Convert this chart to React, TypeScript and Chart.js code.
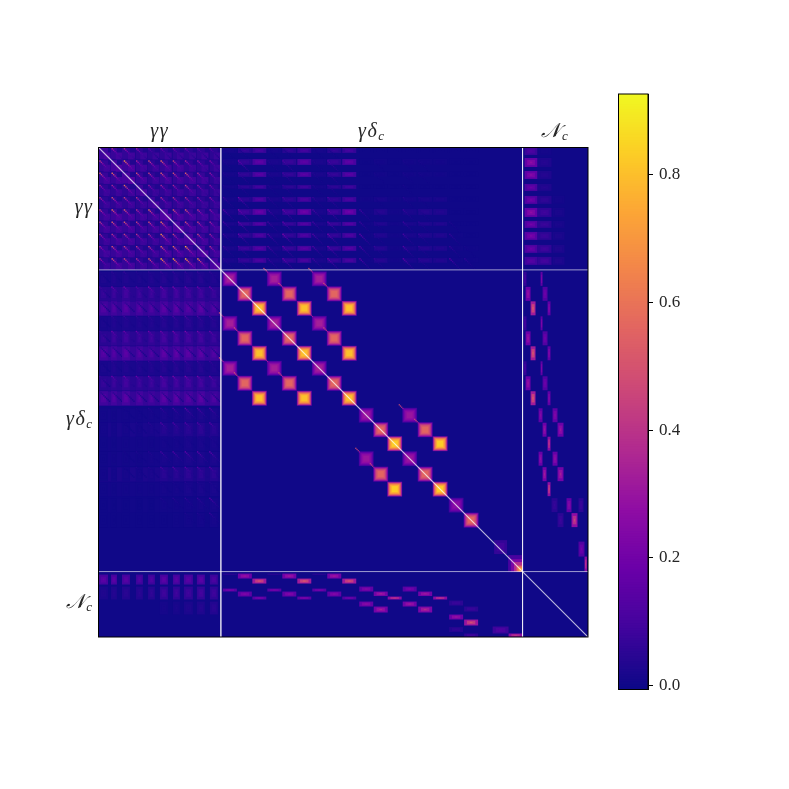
import React, { useEffect, useRef } from "react";
import { Chart, registerables, DatasetController, Element } from "chart.js";

// Matrix axis runs over 490 index units; sector boundaries sit at 122.5 and 424.5
const MATRIX_SIZE = 490;
const sectorEdges = [122.5, 424.5];
const sectorCentres = [61.25, 273.5, 457.25];

// Colour scale
const vMin = -0.006;
const vMax = 0.926;
const plasmaStops = ["#0d0887", "#41049d", "#6a00a8", "#8f0da4", "#b12a90", "#cc4778", "#e16462", "#f2844b", "#fca636", "#fcce25", "#f0f921"];
const colorbarTicks = [0, 0.2, 0.4, 0.6, 0.8];

// gamma-gamma tiles
const tileStarts = [0, 12.25, 24.5, 36.75, 49, 61.25, 73.5, 85.75, 98, 110.25];
const barStarts = [0.5, 12.5, 23.5, 37.5, 49.5, 61.5, 74.5, 85.5, 98.5, 111.5];
const barWidths = [9, 6, 8, 7, 7, 8, 7, 9, 8, 8];
const bandStarts = [0.5, 11.5, 24.5, 37.5, 49.5, 61.5, 74.5, 85.5, 98.5, 110.5];
const bandHeights = [5, 6, 5, 4, 5, 6, 4, 5, 5, 5];
const streakFade = [1, 0.75, 0.56, 0.42, 0.32, 0.25, 0.2, 0.15];

const ggFill = [
  [0.08, 0.07, 0.06, 0.055, 0.05, 0.055, 0.055, 0.05, 0.055, 0.05],
  [0.065, 0.1, 0.08, 0.065, 0.055, 0.065, 0.065, 0.055, 0.055, 0.055],
  [0.07, 0.07, 0.1, 0.065, 0.055, 0.07, 0.065, 0.065, 0.065, 0.05],
  [0.055, 0.055, 0.055, 0.08, 0.05, 0.055, 0.055, 0.055, 0.05, 0.05],
  [0.05, 0.055, 0.055, 0.05, 0.08, 0.055, 0.055, 0.05, 0.05, 0.05],
  [0.065, 0.08, 0.07, 0.065, 0.065, 0.12, 0.08, 0.07, 0.07, 0.065],
  [0.065, 0.065, 0.07, 0.055, 0.065, 0.08, 0.11, 0.07, 0.065, 0.065],
  [0.055, 0.065, 0.065, 0.055, 0.055, 0.07, 0.065, 0.1, 0.065, 0.055],
  [0.065, 0.07, 0.065, 0.055, 0.055, 0.07, 0.07, 0.07, 0.1, 0.065],
  [0.05, 0.065, 0.065, 0.055, 0.055, 0.07, 0.07, 0.07, 0.065, 0.1],
];
const ggStreak = [
  [0, 0.35, 0.35, 0.3, 0.15, 0.2, 0.2, 0.2, 0.15, 0.15],
  [0.45, 0, 0.7, 0.35, 0.5, 0.6, 0.45, 0.35, 0.3, 0.25],
  [0.55, 0.6, 0, 0.5, 0.45, 0.55, 0.5, 0.55, 0.35, 0.3],
  [0.35, 0.35, 0.6, 0, 0.3, 0.35, 0.35, 0.45, 0.3, 0.25],
  [0.4, 0.5, 0.45, 0.4, 0, 0.4, 0.4, 0.4, 0.3, 0.3],
  [0.45, 0.6, 0.55, 0.4, 0.6, 0, 0.55, 0.55, 0.4, 0.3],
  [0.45, 0.55, 0.55, 0.45, 0.5, 0.65, 0, 0.5, 0.45, 0.35],
  [0.4, 0.4, 0.45, 0.4, 0.4, 0.7, 0.45, 0, 0.45, 0.35],
  [0.35, 0.5, 0.45, 0.4, 0.45, 0.6, 0.6, 0.75, 0, 0.4],
  [0.35, 0.55, 0.5, 0.4, 0.55, 0.8, 0.8, 0.8, 0.7, 0],
];

// gamma-delta blocks
const gdStarts = [124.5, 139.5, 154, 169, 184, 199, 214, 229, 244, 261, 275.5, 289.5, 304.5, 320, 335, 351, 366];
const gdSize = 14;
const gdPeak = [0.33, 0.56, 0.8, 0.33, 0.56, 0.8, 0.33, 0.56, 0.8, 0.3, 0.56, 0.83, 0.3, 0.56, 0.83, 0.26, 0.56];
const gdCoupled = [[0, 3, 6], [1, 4, 7], [2, 5, 8], [9, 12], [10, 13], [11, 14], [15], [16]];
const blockRings = [[-0.03, 0.3], [0.03, 0.55], [0.1, 0.74], [0.18, 0.9], [0.28, 1]];
const barRings = [[0, 0.62], [0.2, 0.85], [0.4, 1]];
const leadStreak = [0.5, 0.45, 0.42, 0.3];
const bandGain = 0.72;
const sideStreakGain = 0.65;

// gamma-delta rows against gamma-gamma columns
const gdGgFill = [
  [0.04, 0.05, 0.05, 0.04, 0.05, 0.06, 0.06, 0.06, 0.06, 0.05],
  [0.1, 0.12, 0.14, 0.12, 0.12, 0.14, 0.14, 0.13, 0.13, 0.11],
  [0.19, 0.19, 0.21, 0.2, 0.18, 0.22, 0.22, 0.2, 0.22, 0.18],
  [0.03, 0.05, 0.05, 0.05, 0.05, 0.06, 0.06, 0.07, 0.06, 0.06],
  [0.1, 0.13, 0.14, 0.12, 0.13, 0.15, 0.15, 0.14, 0.14, 0.12],
  [0.2, 0.2, 0.22, 0.2, 0.18, 0.23, 0.23, 0.22, 0.22, 0.19],
  [0.03, 0.05, 0.05, 0.05, 0.05, 0.06, 0.06, 0.06, 0.06, 0.05],
  [0.1, 0.12, 0.14, 0.12, 0.12, 0.15, 0.14, 0.14, 0.14, 0.12],
  [0.19, 0.2, 0.22, 0.2, 0.18, 0.22, 0.22, 0.2, 0.22, 0.18],
  [0.01, 0.01, 0.015, 0.015, 0.02, 0.03, 0.03, 0.04, 0.04, 0.04],
  [0.015, 0.015, 0.02, 0.02, 0.03, 0.06, 0.06, 0.07, 0.08, 0.07],
  [0.005, 0.005, 0.01, 0.01, 0.01, 0.02, 0.02, 0.03, 0.03, 0.03],
  [0.005, 0.01, 0.01, 0.01, 0.02, 0.03, 0.03, 0.04, 0.04, 0.04],
  [0.01, 0.015, 0.02, 0.02, 0.03, 0.07, 0.07, 0.08, 0.08, 0.08],
  [0.005, 0.005, 0.01, 0.01, 0.01, 0.02, 0.02, 0.03, 0.03, 0.03],
  [0, 0, 0, 0, 0, 0.01, 0.01, 0.015, 0.02, 0.025],
  [0, 0, 0, 0, 0, 0, 0.005, 0.01, 0.015, 0.02],
];
const gdGgStreak = [
  [0.05, 0.08, 0.1, 0.06, 0.08, 0.1, 0.1, 0.1, 0.1, 0.1],
  [0.15, 0.3, 0.32, 0.2, 0.35, 0.35, 0.35, 0.3, 0.3, 0.3],
  [0.1, 0.12, 0.14, 0.1, 0.12, 0.14, 0.14, 0.12, 0.14, 0.12],
  [0.04, 0.1, 0.12, 0.1, 0.12, 0.14, 0.16, 0.2, 0.18, 0.16],
  [0.12, 0.3, 0.3, 0.28, 0.3, 0.32, 0.35, 0.35, 0.32, 0.3],
  [0.1, 0.12, 0.14, 0.1, 0.12, 0.14, 0.14, 0.12, 0.14, 0.12],
  [0.04, 0.08, 0.1, 0.08, 0.1, 0.12, 0.12, 0.14, 0.12, 0.12],
  [0.12, 0.28, 0.3, 0.28, 0.3, 0.32, 0.35, 0.35, 0.32, 0.3],
  [0.1, 0.12, 0.14, 0.1, 0.12, 0.14, 0.14, 0.12, 0.14, 0.12],
  [0, 0, 0.02, 0.02, 0.06, 0.12, 0.15, 0.25, 0.22, 0.2],
  [0, 0, 0.02, 0.04, 0.08, 0.2, 0.2, 0.2, 0.2, 0.22],
  [0, 0, 0, 0, 0, 0.03, 0.04, 0.05, 0.05, 0.06],
  [0, 0, 0.02, 0.04, 0.06, 0.16, 0.2, 0.25, 0.25, 0.25],
  [0, 0, 0.02, 0.04, 0.06, 0.16, 0.2, 0.2, 0.2, 0.2],
  [0, 0, 0, 0, 0, 0.03, 0.03, 0.05, 0.05, 0.05],
  [0, 0, 0, 0, 0, 0.04, 0.06, 0.08, 0.1, 0.2],
  [0, 0, 0, 0, 0, 0, 0, 0.03, 0.04, 0.1],
];

// gamma-gamma rows against gamma-delta columns
const ggGdFill = [
  [0.02, 0.1, 0.15, 0.02, 0.09, 0.14, 0.02, 0.09, 0.14, 0, 0, 0, 0, 0, 0, 0, 0],
  [0.02, 0.1, 0.23, 0.03, 0.11, 0.22, 0.03, 0.11, 0.23, 0, 0.01, 0, 0.01, 0.01, 0.01, 0, 0],
  [0.02, 0.09, 0.21, 0.03, 0.1, 0.21, 0.03, 0.1, 0.21, 0, 0.01, 0, 0.01, 0.01, 0.01, 0, 0],
  [0.02, 0.08, 0.14, 0.02, 0.08, 0.13, 0.02, 0.08, 0.13, 0, 0, 0, 0, 0, 0, 0, 0],
  [0.02, 0.08, 0.18, 0.03, 0.09, 0.17, 0.03, 0.09, 0.17, 0.01, 0.03, 0.01, 0.02, 0.03, 0.03, 0, 0],
  [0.03, 0.13, 0.26, 0.03, 0.13, 0.28, 0.03, 0.13, 0.28, 0.01, 0.06, 0.01, 0.03, 0.06, 0.05, 0, 0],
  [0.03, 0.11, 0.2, 0.03, 0.11, 0.2, 0.03, 0.11, 0.2, 0.01, 0.05, 0.01, 0.03, 0.05, 0.05, 0, 0],
  [0.03, 0.1, 0.18, 0.03, 0.1, 0.18, 0.03, 0.1, 0.18, 0.01, 0.05, 0.01, 0.03, 0.05, 0.05, 0.005, 0],
  [0.03, 0.12, 0.2, 0.03, 0.11, 0.21, 0.03, 0.11, 0.2, 0.01, 0.06, 0.01, 0.03, 0.06, 0.05, 0.01, 0.005],
  [0.03, 0.1, 0.17, 0.03, 0.1, 0.16, 0.03, 0.1, 0.16, 0.01, 0.06, 0.01, 0.03, 0.06, 0.05, 0.01, 0.005],
];
const ggGdStreak = [
  [0.03, 0.05, 0, 0.03, 0.05, 0, 0.03, 0.05, 0, 0, 0, 0, 0, 0, 0, 0, 0],
  [0.05, 0.3, 0, 0.06, 0.2, 0, 0.06, 0.2, 0, 0, 0.02, 0, 0.03, 0.03, 0, 0, 0],
  [0.05, 0.15, 0, 0.06, 0.15, 0, 0.06, 0.15, 0, 0, 0.02, 0, 0.03, 0.03, 0, 0, 0],
  [0.03, 0.1, 0, 0.05, 0.1, 0, 0.05, 0.1, 0, 0, 0, 0, 0.02, 0, 0, 0, 0],
  [0.12, 0.3, 0, 0.1, 0.18, 0, 0.1, 0.18, 0, 0, 0.02, 0, 0.06, 0.04, 0, 0, 0],
  [0.22, 0.35, 0, 0.18, 0.3, 0, 0.18, 0.3, 0, 0.15, 0.05, 0, 0.12, 0.06, 0, 0, 0],
  [0.15, 0.3, 0, 0.15, 0.25, 0, 0.15, 0.25, 0, 0.12, 0.05, 0, 0.12, 0.08, 0, 0.04, 0],
  [0.12, 0.25, 0, 0.22, 0.35, 0, 0.2, 0.3, 0, 0.25, 0.07, 0, 0.15, 0.1, 0, 0.1, 0],
  [0.12, 0.2, 0, 0.2, 0.3, 0, 0.2, 0.3, 0, 0.2, 0.1, 0, 0.2, 0.1, 0, 0.1, 0.02],
  [0.08, 0.15, 0, 0.15, 0.3, 0, 0.15, 0.3, 0, 0.22, 0.1, 0, 0.25, 0.1, 0, 0.2, 0.08],
];

// N_c columns against gamma-gamma rows: [start, end, value per tile row]
const ncGgColumns: [number, number, number[]][] = [
  [426.5, 439.5, [0.12, 0.27, 0.25, 0.18, 0.2, 0.27, 0.2, 0.22, 0.18, 0.14]],
  [439.5, 453.5, [0.01, 0.04, 0.04, 0.04, 0.06, 0.09, 0.08, 0.08, 0.09, 0.1]],
  [454.5, 466.5, [0, 0, 0, 0, 0.01, 0.02, 0.02, 0.025, 0.03, 0.03]],
];
// N_c rows against gamma-gamma columns: [start, end, value per tile column]
const ncGgRows: [number, number, number[]][] = [
  [427.5, 437.5, [0.16, 0.16, 0.15, 0.13, 0.13, 0.16, 0.15, 0.15, 0.16, 0.12]],
  [439.5, 452.5, [0.03, 0.04, 0.05, 0.05, 0.06, 0.09, 0.09, 0.09, 0.1, 0.09]],
  [454.5, 467.5, [0, 0, 0, 0, 0, 0.015, 0.02, 0.03, 0.04, 0.05]],
];
// N_c rows against gamma-delta columns: [column block, row start, row end, value]
const ncGdBars: [number, number, number, number][] = [
  [0, 426.5, 428, 0.05], [3, 426.5, 428, 0.05], [6, 426.5, 428, 0.05],
  [1, 426.5, 431.5, 0.3], [4, 426.5, 431.5, 0.32], [7, 426.5, 431.5, 0.32],
  [2, 431.5, 436.5, 0.5], [5, 431.5, 436.5, 0.52], [8, 431.5, 436.5, 0.5],
  [0, 441.5, 444.5, 0.22], [3, 441.5, 444.5, 0.22], [6, 441.5, 444.5, 0.22],
  [1, 444.5, 449.5, 0.24], [4, 444.5, 449.5, 0.25], [7, 444.5, 449.5, 0.25],
  [2, 449.5, 452.5, 0.22], [5, 449.5, 452.5, 0.24], [8, 449.5, 452.5, 0.2],
  [9, 439.5, 444.5, 0.25], [12, 439.5, 444.5, 0.22],
  [10, 444.5, 449, 0.33], [13, 444.5, 449, 0.32],
  [11, 449.5, 452.5, 0.42], [14, 449.5, 452.5, 0.42],
  [9, 454.5, 459.5, 0.27], [12, 454.5, 459.5, 0.32],
  [10, 459.5, 465.5, 0.33], [13, 459.5, 465.5, 0.36],
  [15, 453.5, 458.5, 0.08], [16, 459.5, 464.5, 0.08],
  [15, 467.5, 472.5, 0.3], [16, 472.5, 478.5, 0.48],
  [15, 480, 485, 0.06], [16, 486.5, 490, 0.09],
];
// gamma-delta rows against N_c columns: [row block, column start, column end, value]
const gdNcBars: [number, number, number, number][] = [
  [0, 425.5, 428.5, 0.1], [3, 425.5, 428.5, 0.1], [6, 425.5, 428.5, 0.1],
  [1, 427.5, 432.5, 0.3], [4, 427.5, 432.5, 0.3], [7, 427.5, 432.5, 0.3],
  [2, 432.5, 437.5, 0.52], [5, 432.5, 437.5, 0.52], [8, 432.5, 437.5, 0.52],
  [0, 442.5, 444.5, 0.25], [3, 442.5, 444.5, 0.25], [6, 442.5, 444.5, 0.25],
  [1, 444.5, 449.5, 0.2], [4, 444.5, 449.5, 0.2], [7, 444.5, 449.5, 0.2],
  [2, 449.5, 452.5, 0.25], [5, 449.5, 452.5, 0.25], [8, 449.5, 452.5, 0.25],
  [9, 440.5, 444.5, 0.25], [12, 440.5, 444.5, 0.28],
  [9, 454.5, 459.5, 0.25], [12, 454.5, 459.5, 0.28],
  [10, 444.5, 448.5, 0.3], [13, 444.5, 448.5, 0.33],
  [10, 459.5, 465.5, 0.3], [13, 459.5, 465.5, 0.33],
  [11, 449.5, 452.5, 0.42], [14, 449.5, 452.5, 0.45],
  [15, 453.5, 459.5, 0.07], [15, 468.5, 473.5, 0.26], [15, 480.5, 485.5, 0.08],
  [16, 459.5, 465.5, 0.08], [16, 473.5, 479.5, 0.44],
];
// Separate rectangles near the lower right end: [x0, x1, y0, y1, value]
const cornerBars: [number, number, number, number, number][] = [
  [480.5, 486.5, 394.5, 409.5, 0.2],
  [486.5, 489, 409.5, 424.5, 0.42],
  [394.5, 410.5, 479.5, 486.5, 0.13],
  [410.5, 424.5, 486.5, 490, 0.42],
  [396, 409, 393, 407, 0.1],
];
const cornerGlow: [number, number, number, number, number][] = [
  [410, 424.5, 408, 424.5, 0.1],
  [413, 424.5, 412, 424.5, 0.22],
  [416, 424.5, 415, 424.5, 0.38],
  [418.5, 424, 418.5, 424.5, 0.56],
  [420.5, 424, 420.5, 424.5, 0.72],
];

type Cell = { x: number; y: number; x1: number; y1: number; v: number };

function rect(out: Cell[], x: number, x1: number, y: number, y1: number, v: number) {
  out.push({ x, y, x1, y1, v });
}
function rings(out: Cell[], x0: number, x1: number, y0: number, y1: number, v: number, table: number[][]) {
  const w = x1 - x0;
  const h = y1 - y0;
  for (const [inset, factor] of table) {
    rect(out, x0 + inset * w, x1 - inset * w, y0 + inset * h, y1 - inset * h, v * factor);
  }
}
function streak(out: Cell[], x: number, y: number, v: number, fade: number[]) {
  fade.forEach((f, i) => {
    rect(out, x + i * 1.4, x + i * 1.4 + 1.4, y + i * 1.4, y + i * 1.4 + 1.4, v * f);
  });
}

function buildCells(): Cell[] {
  const out: Cell[] = [];
  rect(out, 0, MATRIX_SIZE, 0, MATRIX_SIZE, 0);

  // gamma-gamma sector
  rect(out, 0, sectorEdges[0], 0, sectorEdges[0], 0.03);
  tileStarts.forEach((ty, r) =>
    tileStarts.forEach((tx, c) => {
      rect(out, barStarts[c], barStarts[c] + barWidths[c], ty + 0.5, ty + 11.5, ggFill[r][c]);
      rect(out, tx + 5, tx + 12, ty + 5, ty + 12, ggFill[r][c] + 0.025);
    })
  );
  tileStarts.forEach((ty, r) =>
    tileStarts.forEach((tx, c) => {
      if (ggStreak[r][c] > 0) streak(out, tx + 0.8, ty + 0.6, ggStreak[r][c], streakFade);
    })
  );

  // gamma-delta against gamma-gamma
  gdStarts.forEach((gy, r) => {
    rect(out, 0, sectorEdges[0], gy, gy + gdSize + 0.5, gdGgFill[r][5] * 0.3);
    tileStarts.forEach((tx, c) => {
      rings(out, barStarts[c], barStarts[c] + barWidths[c], gy, gy + gdSize, gdGgFill[r][c] * bandGain, barRings);
      if (gdGgStreak[r][c] > 0) streak(out, tx + 0.5, gy - 0.5, gdGgStreak[r][c] * sideStreakGain, streakFade);
    });
  });
  // gamma-gamma against gamma-delta
  bandStarts.forEach((by, r) => {
    gdStarts.forEach((gx, c) => {
      rings(out, gx, gx + gdSize, by, by + bandHeights[r], ggGdFill[r][c] * bandGain, barRings);
      if (ggGdStreak[r][c] > 0) streak(out, gx, tileStarts[r] + 0.5, ggGdStreak[r][c] * sideStreakGain, streakFade);
    });
  });

  // gamma-delta blocks
  gdCoupled.forEach((group) => {
    group.forEach((r) =>
      group.forEach((c) => {
        rings(out, gdStarts[c], gdStarts[c] + gdSize, gdStarts[r], gdStarts[r] + gdSize, gdPeak[r], blockRings);
        if (r !== c && gdPeak[r] < 0.7) {
          leadStreak.forEach((v, i) => {
            const px = gdStarts[c] - 4 + i * 1.2;
            const py = gdStarts[r] - 4 + i * 1.2;
            rect(out, px, px + 1.2, py, py + 1.2, v);
          });
        }
      })
    );
  });

  // N_c couplings
  ncGgColumns.forEach(([x0, x1, vals]) =>
    vals.forEach((v, r) => {
      if (v > 0) rings(out, x0, x1, bandStarts[r] - 1, bandStarts[r] + bandHeights[r] + 2, v, barRings);
    })
  );
  ncGgRows.forEach(([y0, y1, vals]) =>
    vals.forEach((v, c) => {
      if (v > 0) rings(out, barStarts[c], barStarts[c] + barWidths[c], y0, y1, v, barRings);
    })
  );
  ncGdBars.forEach(([c, y0, y1, v]) => rings(out, gdStarts[c], gdStarts[c] + gdSize, y0, y1, v, barRings));
  gdNcBars.forEach(([r, x0, x1, v]) => rings(out, x0, x1, gdStarts[r], gdStarts[r] + gdSize, v, barRings));
  cornerBars.forEach(([x0, x1, y0, y1, v]) => rings(out, x0, x1, y0, y1, v, barRings));
  cornerGlow.forEach(([x0, x1, y0, y1, v]) => rect(out, x0, x1, y0, y1, v));
  return out;
}

function hexRgb(h: string) {
  return [1, 3, 5].map((i) => parseInt(h.slice(i, i + 2), 16));
}
function colorFor(v: number) {
  const t = Math.min(1, Math.max(0, (v - vMin) / (vMax - vMin))) * (plasmaStops.length - 1);
  const i = Math.min(plasmaStops.length - 2, Math.floor(t));
  const a = hexRgb(plasmaStops[i]);
  const b = hexRgb(plasmaStops[i + 1]);
  const f = t - i;
  return `rgb(${a.map((p, k) => Math.round(p + (b[k] - p) * f)).join(",")})`;
}

class CellElement extends Element {
  static id = "matrixCell";
  static defaults = {};
  draw(ctx: CanvasRenderingContext2D) {
    const e = this as any;
    ctx.fillStyle = e.color;
    ctx.fillRect(e.x, e.y, e.width, e.height);
  }
}

class MatrixController extends DatasetController {
  static id = "matrix";
  static defaults = { dataElementType: "matrixCell", datasetElementType: false };
  update(mode: any) {
    const meta = (this as any)._cachedMeta;
    (this as any).updateElements(meta.data, 0, meta.data.length, mode);
  }
  updateElements(items: any[], start: number, count: number) {
    const meta = (this as any)._cachedMeta;
    const rows = (this as any).getDataset().data as Cell[];
    for (let i = start; i < start + count; i++) {
      const d = rows[i];
      const x = meta.xScale.getPixelForValue(d.x);
      const y = meta.yScale.getPixelForValue(d.y);
      Object.assign(items[i], {
        x,
        y,
        width: meta.xScale.getPixelForValue(d.x1) - x,
        height: meta.yScale.getPixelForValue(d.y1) - y,
        color: colorFor(d.v),
      });
    }
  }
  draw() {
    const meta = (this as any)._cachedMeta;
    const ctx = (this as any).chart.ctx;
    meta.data.forEach((e: any) => e.draw(ctx));
  }
}

Chart.register(...registerables, CellElement, MatrixController as any);

const lineStyle = { type: "line" as const, order: 0, borderColor: "rgba(255,255,255,0.6)", borderWidth: 1, pointRadius: 0, fill: false };
const diagonalStyle = { ...lineStyle, borderColor: "rgba(255,255,255,0.72)", borderWidth: 1.1 };
const TEXT_FONT = '"Liberation Serif", serif';
const TEXT_COLOR = "#262626";
const sectorLabels = [
  { main: "γγ", sub: "" },
  { main: "γδ", sub: "c" },
  { main: "𝒩", sub: "c" },
];

const labelsPlugin = {
  id: "sectorLabels",
  afterDraw(chart: any) {
    const { ctx, chartArea, scales } = chart;
    ctx.save();
    ctx.strokeStyle = "#000";
    ctx.lineWidth = 1;
    ctx.strokeRect(chartArea.left, chartArea.top, chartArea.width, chartArea.height);
    ctx.fillStyle = TEXT_COLOR;
    ctx.textBaseline = "alphabetic";
    const mainFont = `italic 20px ${TEXT_FONT}`;
    const subFont = `italic 13px ${TEXT_FONT}`;
    (ctx as any).letterSpacing = "1.5px";
    sectorLabels.forEach((l, i) => {
      ctx.font = mainFont;
      const mw = ctx.measureText(l.main).width;
      ctx.font = subFont;
      const sw = l.sub ? ctx.measureText(l.sub).width : 0;
      const total = mw + sw;
      const put = (left: number, base: number) => {
        ctx.textAlign = "left";
        ctx.font = mainFont;
        ctx.fillText(l.main, left, base);
        if (l.sub) {
          ctx.font = subFont;
          ctx.fillText(l.sub, left + mw, base + 3);
        }
      };
      put(scales.x.getPixelForValue(sectorCentres[i]) - total / 2, chartArea.top - 11);
      put(chartArea.left - 5 - total, scales.y.getPixelForValue(sectorCentres[i]) + 4);
    });
    ctx.restore();
  },
};

const cbRow = 0.004;
function buildColorbar(): Cell[] {
  const out: Cell[] = [];
  for (let v = vMin; v < vMax; v += cbRow) out.push({ x: 0, x1: 1, y: v, y1: Math.min(vMax, v + cbRow * 1.6), v });
  return out;
}

export default function App() {
  const mainRef = useRef<HTMLCanvasElement>(null);
  const barRef = useRef<HTMLCanvasElement>(null);
  useEffect(() => {
    const main = new Chart(mainRef.current!, {
      type: "matrix" as any,
      data: {
        datasets: [
          { type: "matrix", order: 1, data: buildCells() } as any,
          { ...diagonalStyle, data: [{ x: 0, y: 0 }, { x: MATRIX_SIZE, y: MATRIX_SIZE }] },
          { ...lineStyle, data: [{ x: sectorEdges[0], y: 0 }, { x: sectorEdges[0], y: MATRIX_SIZE }] },
          { ...lineStyle, data: [{ x: sectorEdges[1], y: 0 }, { x: sectorEdges[1], y: MATRIX_SIZE }] },
          { ...lineStyle, data: [{ x: 0, y: sectorEdges[0] }, { x: MATRIX_SIZE, y: sectorEdges[0] }] },
          { ...lineStyle, data: [{ x: 0, y: sectorEdges[1] }, { x: MATRIX_SIZE, y: sectorEdges[1] }] },
        ],
      },
      plugins: [labelsPlugin],
      options: {
        responsive: false,
        animation: false,
        devicePixelRatio: 1,
        events: [],
        layout: { padding: { left: 98.5, right: 201, top: 147.5, bottom: 152 } },
        plugins: { legend: { display: false }, tooltip: { enabled: false } },
        scales: {
          x: { type: "linear", display: false, min: 0, max: MATRIX_SIZE },
          y: { type: "linear", display: false, min: 0, max: MATRIX_SIZE, reverse: true },
        },
      } as any,
    });
    const bar = new Chart(barRef.current!, {
      type: "matrix" as any,
      data: { datasets: [{ type: "matrix", data: buildColorbar() } as any] },
      options: {
        responsive: false,
        animation: false,
        devicePixelRatio: 1,
        events: [],
        layout: { padding: { left: 618.5, right: 101, top: 94, bottom: 99.5 } },
        plugins: { legend: { display: false }, tooltip: { enabled: false } },
        scales: {
          x: { type: "linear", display: false, min: 0, max: 1 },
          y: {
            type: "linear",
            position: "right",
            min: vMin,
            max: vMax,
            afterBuildTicks: (s: any) => {
              s.ticks = colorbarTicks.map((value) => ({ value }));
            },
            afterFit: (s: any) => {
              s.width = 40;
            },
            border: { color: "#000", width: 1 },
            grid: { drawOnChartArea: false, drawTicks: true, tickLength: 5, color: "#000" },
            ticks: {
              padding: 6,
              color: TEXT_COLOR,
              font: { family: TEXT_FONT, size: 17 },
              callback: (v: any) => Number(v).toFixed(1),
            },
          },
        },
      } as any,
      plugins: [
        {
          id: "cbFrame",
          afterDraw(chart: any) {
            const { ctx, chartArea: a } = chart;
            ctx.save();
            ctx.strokeStyle = "#000";
            ctx.lineWidth = 1;
            ctx.strokeRect(a.left, a.top, a.width, a.height);
            ctx.restore();
          },
        },
      ],
    });
    return () => {
      main.destroy();
      bar.destroy();
    };
  }, []);
  const c: React.CSSProperties = { position: "absolute", left: 0, top: 0 };
  return (
    <div style={{ position: "fixed", left: 0, top: 0, width: 789, height: 789, background: "#fff" }}>
      <canvas ref={mainRef} width={789} height={789} style={c} />
      <canvas ref={barRef} width={789} height={789} style={c} />
    </div>
  );
}
